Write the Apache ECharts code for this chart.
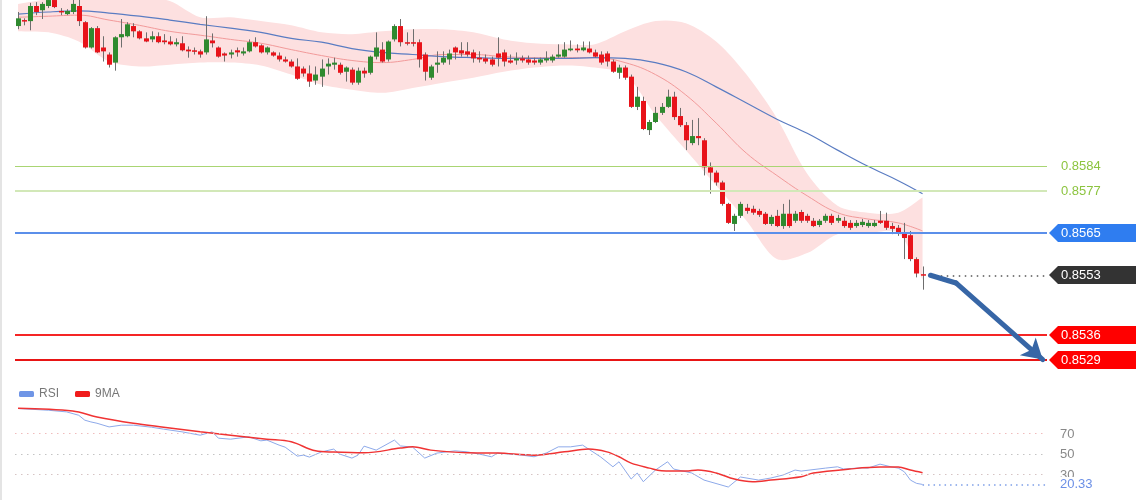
<!DOCTYPE html>
<html><head><meta charset="utf-8">
<script src="https://cdn.jsdelivr.net/npm/echarts/dist/echarts.min.js"></script>
<style>html,body{margin:0;padding:0;background:#fff;}#c{width:1140px;height:500px;}</style>
</head><body><div id="c"></div>
<script>
// ---- candles (150 bars) ----
const open = [
0.86239,0.86256,0.86253,0.86296,0.86284,0.86296,0.86313,0.86282,0.86273,0.86279,
0.86296,0.86250,0.86178,0.86233,0.86178,0.86158,0.86135,0.86207,0.86210,0.86239,
0.86224,0.86204,0.86201,0.86210,0.86198,0.86195,0.86187,0.86190,0.86172,0.86170,
0.86167,0.86164,0.86198,0.86178,0.86161,0.86158,0.86170,0.86161,0.86167,0.86193,
0.86184,0.86164,0.86164,0.86155,0.86144,0.86138,0.86124,0.86118,0.86104,0.86084,
0.86095,0.86124,0.86129,0.86129,0.86109,0.86115,0.86078,0.86112,0.86106,0.86152,
0.86172,0.86144,0.86201,0.86239,0.86193,0.86193,0.86193,0.86158,0.86092,0.86129,
0.86135,0.86144,0.86178,0.86170,0.86167,0.86164,0.86149,0.86147,0.86144,0.86161,
0.86164,0.86141,0.86141,0.86147,0.86144,0.86141,0.86135,0.86141,0.86141,0.86152,
0.86152,0.86170,0.86175,0.86170,0.86175,0.86164,0.86158,0.86161,0.86138,0.86106,
0.86121,0.86095,0.86009,0.86026,0.85943,0.85966,0.85992,0.86009,0.86038,0.85983,
0.85957,0.85906,0.85926,0.85914,0.85837,0.85822,0.85794,0.85733,0.85676,0.85699,
0.85722,0.85719,0.85713,0.85705,0.85676,0.85699,0.85670,0.85705,0.85685,0.85710,
0.85699,0.85685,0.85673,0.85685,0.85699,0.85685,0.85685,0.85679,0.85670,0.85673,
0.85670,0.85670,0.85685,0.85685,0.85670,0.85665,0.85650,0.85644,0.85576,0.85533];
const close = [
0.86261,0.86253,0.86296,0.86279,0.86302,0.86313,0.86293,0.86280,0.86282,0.86302,
0.86253,0.86178,0.86233,0.86164,0.86167,0.86129,0.86207,0.86216,0.86244,0.86224,
0.86204,0.86195,0.86210,0.86193,0.86193,0.86187,0.86193,0.86170,0.86167,0.86167,
0.86158,0.86201,0.86190,0.86152,0.86155,0.86164,0.86164,0.86167,0.86193,0.86181,
0.86164,0.86178,0.86155,0.86144,0.86138,0.86124,0.86089,0.86104,0.86081,0.86101,
0.86118,0.86132,0.86135,0.86106,0.86121,0.86078,0.86112,0.86104,0.86152,0.86178,
0.86138,0.86195,0.86239,0.86193,0.86190,0.86190,0.86144,0.86109,0.86124,0.86135,
0.86149,0.86161,0.86164,0.86161,0.86158,0.86147,0.86144,0.86138,0.86129,0.86149,
0.86138,0.86135,0.86147,0.86141,0.86135,0.86135,0.86144,0.86147,0.86152,0.86158,
0.86172,0.86175,0.86170,0.86178,0.86164,0.86152,0.86135,0.86138,0.86109,0.86121,
0.86092,0.86009,0.86038,0.85946,0.85966,0.85992,0.86009,0.86038,0.85980,0.85957,
0.85914,0.85926,0.85920,0.85837,0.85822,0.85794,0.85733,0.85679,0.85699,0.85733,
0.85713,0.85708,0.85702,0.85676,0.85696,0.85670,0.85705,0.85670,0.85705,0.85685,
0.85685,0.85670,0.85685,0.85699,0.85679,0.85693,0.85670,0.85665,0.85679,0.85682,
0.85679,0.85679,0.85679,0.85665,0.85662,0.85650,0.85636,0.85576,0.85535,0.85530];
const high = [
0.86279,0.86261,0.86305,0.86307,0.86307,0.86316,0.86316,0.86290,0.86287,0.86316,
0.86316,0.86253,0.86236,0.86239,0.86210,0.86164,0.86210,0.86259,0.86250,0.86247,
0.86227,0.86221,0.86224,0.86221,0.86216,0.86210,0.86204,0.86210,0.86181,0.86178,
0.86172,0.86267,0.86218,0.86181,0.86164,0.86172,0.86178,0.86178,0.86201,0.86207,
0.86187,0.86181,0.86167,0.86164,0.86152,0.86144,0.86147,0.86124,0.86127,0.86124,
0.86144,0.86147,0.86149,0.86135,0.86124,0.86121,0.86121,0.86121,0.86155,0.86221,
0.86193,0.86198,0.86244,0.86259,0.86221,0.86230,0.86201,0.86164,0.86129,0.86167,
0.86167,0.86172,0.86181,0.86193,0.86193,0.86172,0.86167,0.86158,0.86152,0.86207,
0.86172,0.86158,0.86164,0.86155,0.86155,0.86149,0.86149,0.86167,0.86158,0.86187,
0.86193,0.86198,0.86187,0.86195,0.86195,0.86172,0.86167,0.86167,0.86144,0.86129,
0.86127,0.86101,0.86066,0.86038,0.85972,0.86009,0.86020,0.86058,0.86052,0.86006,
0.85966,0.85972,0.85977,0.85920,0.85851,0.85828,0.85799,0.85736,0.85705,0.85739,
0.85733,0.85728,0.85719,0.85710,0.85702,0.85716,0.85733,0.85745,0.85713,0.85716,
0.85705,0.85693,0.85690,0.85705,0.85705,0.85702,0.85696,0.85687,0.85687,0.85690,
0.85687,0.85687,0.85713,0.85708,0.85679,0.85673,0.85679,0.85656,0.85581,0.85555];
const low = [
0.86230,0.86241,0.86227,0.86270,0.86259,0.86290,0.86290,0.86270,0.86270,0.86273,
0.86239,0.86175,0.86175,0.86162,0.86138,0.86121,0.86112,0.86178,0.86207,0.86207,
0.86201,0.86193,0.86193,0.86190,0.86187,0.86184,0.86181,0.86167,0.86149,0.86158,
0.86149,0.86158,0.86178,0.86149,0.86138,0.86147,0.86152,0.86155,0.86164,0.86178,
0.86161,0.86158,0.86152,0.86138,0.86135,0.86121,0.86086,0.86095,0.86066,0.86072,
0.86066,0.86101,0.86115,0.86101,0.86081,0.86072,0.86072,0.86092,0.86101,0.86144,
0.86135,0.86138,0.86195,0.86181,0.86184,0.86181,0.86121,0.86084,0.86086,0.86106,
0.86129,0.86129,0.86144,0.86152,0.86152,0.86135,0.86135,0.86132,0.86124,0.86124,
0.86124,0.86132,0.86129,0.86135,0.86129,0.86129,0.86129,0.86135,0.86135,0.86149,
0.86149,0.86167,0.86164,0.86167,0.86161,0.86149,0.86129,0.86124,0.86106,0.86089,
0.86086,0.86006,0.86000,0.85943,0.85929,0.85963,0.85986,0.86006,0.85972,0.85952,
0.85886,0.85900,0.85900,0.85814,0.85762,0.85785,0.85728,0.85676,0.85656,0.85693,
0.85705,0.85702,0.85696,0.85673,0.85670,0.85667,0.85662,0.85665,0.85679,0.85679,
0.85679,0.85667,0.85667,0.85679,0.85673,0.85679,0.85665,0.85659,0.85665,0.85667,
0.85665,0.85667,0.85676,0.85659,0.85647,0.85642,0.85576,0.85570,0.85524,0.85489];

// ---- indicators read at sampled bars ----
const bandIdx = [0,5,10,15,20,25,30,35,40,45,50,55,60,65,70,75,80,85,90,95,100,105,110,115,120,125,130,135,140,145,149];
const bandUpper = [0.86302,0.86316,0.86330,0.86335,0.86325,0.86310,0.86264,0.86264,0.86253,0.86241,0.86221,0.86216,0.86224,0.86230,0.86230,0.86221,0.86201,0.86190,0.86187,0.86187,0.86224,0.86253,0.86247,0.86195,0.86101,0.85977,0.85819,0.85728,0.85708,0.85708,0.85751];
const bandLower = [0.86224,0.86221,0.86195,0.86138,0.86124,0.86129,0.86135,0.86135,0.86127,0.86101,0.86072,0.86058,0.86049,0.86063,0.86078,0.86092,0.86109,0.86121,0.86127,0.86121,0.86101,0.85986,0.85886,0.85785,0.85685,0.85576,0.85593,0.85647,0.85650,0.85650,0.85518];
const maFast = [0.86264,0.86267,0.86270,0.86256,0.86241,0.86224,0.86213,0.86201,0.86190,0.86172,0.86155,0.86141,0.86135,0.86144,0.86158,0.86158,0.86152,0.86149,0.86149,0.86149,0.86135,0.86101,0.86043,0.85963,0.85877,0.85814,0.85756,0.85708,0.85690,0.85679,0.85656];
const maSlow = [0.86273,0.86279,0.86282,0.86276,0.86267,0.86256,0.86244,0.86233,0.86221,0.86204,0.86193,0.86175,0.86164,0.86158,0.86152,0.86149,0.86147,0.86147,0.86147,0.86149,0.86147,0.86135,0.86109,0.86066,0.86020,0.85974,0.85934,0.85886,0.85840,0.85799,0.85762];

// ---- price levels ----
const levelValues = [0.8584, 0.8577, 0.8565, 0.8536, 0.8529];
const lastClose = 0.8553;
const arrowIdx = [150.3, 154.5, 168.8];
const arrowPrice = [0.8553, 0.85508, 0.8529];

// ---- RSI panel ----
const rsiIdx = [0,5,8,10,11,12,13,15,17,19,22,24,27,30,32,33,35,38,40,41,43,44,46,47,48,50,52,53,55,56,57,59,62,63,65,67,69,72,74,76,78,79,83,85,87,89,91,93,96,98,99,101,102,103,105,107,108,111,113,117,119,122,124,126,128,129,133,135,136,139,140,142,144,145,146,147,148,149];
const rsiVal = [94.6,92.9,91.3,88.0,83.2,81.5,80.2,76.6,78.3,78.3,76.3,74.4,71.8,68.5,71.8,65.6,64.6,66.9,63.0,63.7,58.8,56.8,48.0,49.0,47.1,52.2,54.9,50.0,46.1,49.0,57.8,53.9,63.7,58.0,56.8,46.1,51.0,53.2,52.2,50.0,47.4,51.0,49.0,47.4,51.0,57.1,57.1,58.8,47.1,37.6,42.5,25.6,31.5,23.0,34.4,42.5,35.4,31.5,24.6,17.8,27.6,24.6,26.6,29.5,34.4,33.4,36.3,37.6,35.4,36.6,36.3,40.2,37.3,36.3,32.7,24.6,21.4,20.33];
const ma9Idx = [0,9,13,19,24,30,35,41,45,49,52,57,63,65,68,74,79,85,90,94,97,99,101,104,106,110,112,115,118,121,124,129,131,137,142,145,147,149];
const ma9Val = [94.9,92.2,86.4,80.2,76.3,71.8,68.5,64.6,62.0,53.2,52.0,51.3,55.9,57.1,53.9,51.3,51.0,49.0,52.2,54.9,52.2,47.4,41.2,36.3,33.7,33.4,34.4,31.5,25.6,23.0,24.6,27.9,31.5,35.4,37.3,37.3,34.4,31.8];
const rsiLevels = [70, 50, 30];
const rsiLast = 20.33;

// ---- build ----
const SLOTS = 170;
const X0 = -0.5, X1 = SLOTS - 0.5;
const pair = (xs, ys) => xs.map((x, k) => [x, ys[k]]);
const candleData = open.map((o, i) => [i, o, close[i], low[i], high[i]]);
const FONT = 'Arial, "Liberation Sans", sans-serif';
const hline = (v, style) => [ { coord: [X0, v], lineStyle: style }, { coord: [X1, v] } ];

const levelStyles = [
  { color: '#a9d573', width: 1, type: 'solid' },
  { color: '#d2e8b8', width: 2, type: 'solid' },
  { color: '#5b8fea', width: 2, type: 'solid' },
  { color: '#f52525', width: 2, type: 'solid' },
  { color: '#e81515', width: 2, type: 'solid' }
];
const rsiLevelStyles = [
  { color: '#f0bcbc', width: 1, type: [1.5, 4.5] },
  { color: '#c4c4c4', width: 1, type: [1.5, 4.5] },
  { color: '#d6c4c4', width: 1, type: [1.5, 4.5] }
];

const chart = echarts.init(document.getElementById('c'));
const option = {
  animation: false,
  backgroundColor: '#ffffff',
  textStyle: { fontFamily: FONT },
  grid: [
    { left: 15, top: 0, width: 1032, height: 380 },
    { left: 15, top: 403, width: 1032, height: 92 }
  ],
  xAxis: [
    { type: 'value', gridIndex: 0, min: X0, max: X1, show: false },
    { type: 'value', gridIndex: 1, min: X0, max: X1, show: false }
  ],
  yAxis: [
    { type: 'value', gridIndex: 0, min: 0.85232, max: 0.863131, show: false },
    { type: 'value', gridIndex: 1, min: 10, max: 100, show: false }
  ],
  legend: {
    data: ['RSI', '9MA'], left: 14, top: 383, icon: 'roundRect',
    itemWidth: 15, itemHeight: 6, itemGap: 16,
    textStyle: { color: '#777', fontSize: 12, fontFamily: FONT }
  },
  series: [
    { type: 'custom', name: 'band', silent: true, z: 1, clip: true,
      data: bandIdx.map((x, k) => [x, bandUpper[k], bandLower[k]]), encode: { x: 0, y: [1, 2] },
      renderItem: function (params, api) {
        if (params.dataIndex !== 0) return null;
        const up = bandIdx.map((x, k) => api.coord([x, bandUpper[k]]));
        const lo = bandIdx.map((x, k) => api.coord([x, bandLower[k]])).reverse();
        const pts = [up[0]].concat(up, [up[up.length - 1], lo[0]], lo, [lo[lo.length - 1]]);
        return { type: 'polygon', shape: { points: pts, smooth: 0.3 }, style: { fill: '#fde0e0' } };
      } },
    { type: 'line', name: 'maFast', data: pair(bandIdx, maFast), smooth: 0.4, symbol: 'none',
      lineStyle: { color: '#f29a9a', width: 1 }, silent: true, z: 2 },
    { type: 'line', name: 'maSlow', data: pair(bandIdx, maSlow), smooth: 0.4, symbol: 'none',
      lineStyle: { color: '#5a7cc2', width: 1.2 }, silent: true, z: 2 },
    { type: 'custom', name: 'candles', data: candleData, encode: { x: 0, y: [1, 2, 3, 4] }, z: 3, clip: true,
      renderItem: function (params, api) {
        const i = api.value(0);
        const o = api.coord([i, api.value(1)]);
        const c = api.coord([i, api.value(2)]);
        const l = api.coord([i, api.value(3)]);
        const h = api.coord([i, api.value(4)]);
        const up = api.value(2) >= api.value(1);
        const x = Math.round(o[0]);
        const top = Math.min(o[1], c[1]);
        const bot = Math.max(o[1], c[1]);
        return { type: 'group', children: [
          { type: 'line', shape: { x1: x + 0.5, y1: h[1], x2: x + 0.5, y2: l[1] },
            style: { stroke: '#6e6e6e', lineWidth: 1 } },
          { type: 'rect', shape: { x: x - 2, y: top, width: 5, height: Math.max(bot - top, 1.5) },
            style: { fill: up ? '#2f8a2f' : '#e8131a' } }
        ]};
      } },
    { type: 'line', name: 'levels', data: [], z: 5, silent: true,
      markLine: { silent: true, symbol: ['none', 'none'], label: { show: false }, animation: false,
        data: levelValues.map((v, k) => hline(v, levelStyles[k])).concat([
          [ { coord: [152, lastClose], lineStyle: { color: '#555', width: 1.5, type: [1.5, 4.5] } },
            { coord: [X1, lastClose] } ]
        ]) } },
    { type: 'line', name: 'arrow', data: [], z: 6, silent: true,
      markLine: { silent: true, label: { show: false }, animation: false,
        lineStyle: { color: '#3766a6', width: 5, type: 'solid', cap: 'round' },
        data: [
          [ { coord: [arrowIdx[0], arrowPrice[0]], symbol: 'none' },
            { coord: [arrowIdx[1], arrowPrice[1]], symbol: 'none' } ],
          [ { coord: [arrowIdx[1], arrowPrice[1]], symbol: 'none' },
            { coord: [arrowIdx[2], arrowPrice[2]], symbol: 'arrow', symbolSize: [18, 20] } ]
        ] } },
    { type: 'line', name: 'RSI', xAxisIndex: 1, yAxisIndex: 1, data: pair(rsiIdx, rsiVal),
      symbol: 'none', color: '#6f95e6', lineStyle: { color: '#8eaaea', width: 1 }, z: 3,
      markLine: { silent: true, symbol: ['none', 'none'], label: { show: false }, animation: false,
        data: rsiLevels.map((v, k) => hline(v, rsiLevelStyles[k])).concat([
          [ { coord: [149, rsiLast], lineStyle: { color: '#7e9fe8', width: 1.5, type: [1.5, 4] } },
            { coord: [X1, rsiLast] } ]
        ]) } },
    { type: 'line', name: '9MA', xAxisIndex: 1, yAxisIndex: 1, data: pair(ma9Idx, ma9Val),
      symbol: 'none', smooth: 0.35, color: '#f01c1c', lineStyle: { color: '#f03333', width: 1.5 }, z: 4 }
  ]
};
chart.setOption(option);

// ---- right-hand price tags ----
const py = v => chart.convertToPixel({ yAxisIndex: 0 }, v);
const ry = v => chart.convertToPixel({ yAxisIndex: 1 }, v);
const tagStyles = [
  { box: null, color: '#8cc43f' },
  { box: null, color: '#8cc43f' },
  { box: '#2f7df0', color: '#ffffff' },
  { box: '#ff0000', color: '#ffffff' },
  { box: '#ff0000', color: '#ffffff' }
];
const tags = levelValues.map((v, k) => ({ v: v, text: v.toFixed(4), s: tagStyles[k] }));
tags.splice(3, 0, { v: lastClose, text: lastClose.toFixed(4), s: { box: '#333333', color: '#ffffff' } });
const g = [];
g.push({ type: 'rect', shape: { x: 0, y: 0, width: 2, height: 500 }, style: { fill: '#e4e4e4' }, silent: true });
tags.forEach(t => {
  const y = Math.round(py(t.v));
  if (t.s.box) {
    g.push({ type: 'polygon', silent: true, z: 10,
      shape: { points: [[1049, y], [1058, y - 9], [1136, y - 9], [1136, y + 9], [1058, y + 9]] },
      style: { fill: t.s.box } });
  }
  g.push({ type: 'text', silent: true, z: 11, x: 1061, y: y,
    style: { text: t.text, fill: t.s.color, font: '13px ' + FONT, verticalAlign: 'middle', textVerticalAlign: 'middle' } });
});
rsiLevels.forEach(v => {
  g.push({ type: 'text', silent: true, z: 11, x: 1060, y: Math.round(ry(v)),
    style: { text: String(v), fill: '#888', font: '13px ' + FONT, verticalAlign: 'middle', textVerticalAlign: 'middle' } });
});
g.push({ type: 'text', silent: true, z: 12, x: 1060, y: Math.round(ry(rsiLast)),
  style: { text: rsiLast.toFixed(2), fill: '#6b8fe6', font: '13px ' + FONT, verticalAlign: 'middle', textVerticalAlign: 'middle',
    backgroundColor: '#ffffff', padding: [1, 2, 0, 0] } });
chart.setOption({ graphic: g });
</script>
</body></html>
